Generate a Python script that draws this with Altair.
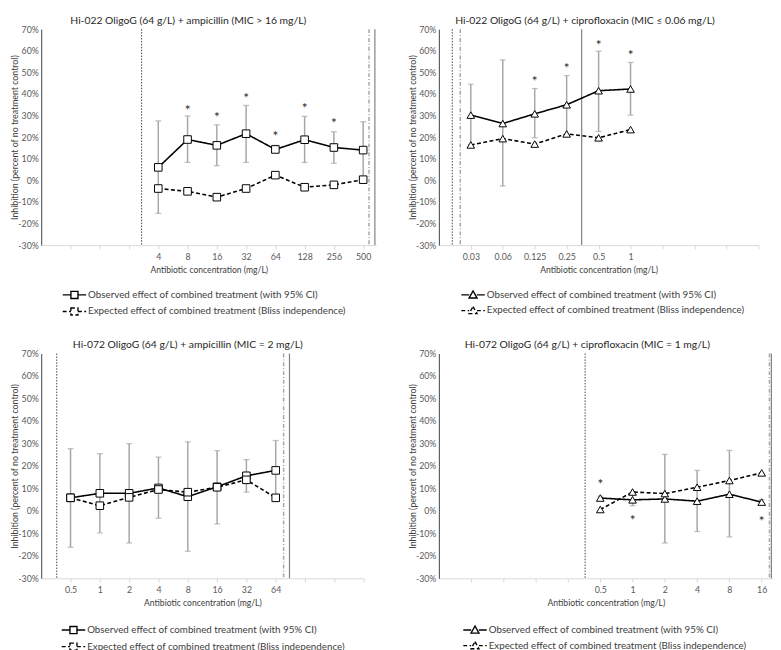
import json
import altair as alt
import pandas as pd

FONT = "Lato"
OBS = "Observed effect of combined treatment (with 95% CI)"
EXP = "Expected effect of combined treatment (Bliss independence)"

# ---------------- Panel A: Hi-022 + ampicillin ----------------
a_title = "Hi-022 OligoG (64 g/L) + ampicillin (MIC > 16 mg/L)"
a_labels = ["4", "8", "16", "32", "64", "128", "256", "500"]
a_pos = [4, 5, 6, 7, 8, 9, 10, 11]
a_obs = [6.0, 18.9, 16.2, 21.6, 14.3, 18.8, 15.2, 14.0]
a_lo = [-15.3, 8.3, 6.8, 8.3, 12.8, 8.3, 7.9, 0.5]
a_hi = [27.5, 29.8, 25.7, 34.7, 16.2, 29.6, 22.5, 27.1]
a_exp = [-3.8, -5.1, -7.8, -3.8, 2.4, -3.2, -2.1, 0.3]
a_star = [None, 33.5, 30.0, 38.8, 21.3, 34.4, 27.2, None]
a_refs = [3.43, 11.2, 11.4]  # dotted, dash-dot, solid

# ---------------- Panel B: Hi-022 + ciprofloxacin ----------------
b_title = "Hi-022 OligoG (64 g/L) + ciprofloxacin (MIC \u2264 0.06 mg/L)"
b_labels = ["0.03", "0.06", "0.125", "0.25", "0.5", "1"]
b_pos = [1, 2, 3, 4, 5, 6]
b_obs = [30.2, 26.3, 30.8, 35.0, 41.5, 42.3]
b_lo = [16.5, -2.6, 19.7, 21.0, 22.6, 30.2]
b_hi = [44.5, 55.8, 42.5, 48.5, 59.8, 54.6]
b_exp = [16.4, 19.3, 16.8, 21.5, 19.7, 23.5]
b_star = [None, None, 47.0, 53.0, 63.6, 58.8]
b_refs = [0.42, 0.67, 4.47]

# ---------------- Panel C: Hi-072 + ampicillin ----------------
c_title = "Hi-072 OligoG (64 g/L) + ampicillin (MIC = 2 mg/L)"
c_labels = ["0.5", "1", "2", "4", "8", "16", "32", "64"]
c_pos = [1, 2, 3, 4, 5, 6, 7, 8]
c_obs = [5.8, 7.8, 7.8, 10.2, 6.3, 10.7, 15.6, 18.0]
c_lo = [-16.2, -9.8, -14.3, -3.3, -18.0, -5.8, 8.3, 5.0]
c_hi = [27.7, 25.4, 29.9, 23.9, 30.7, 26.8, 22.8, 31.3]
c_exp = [5.8, 2.3, 6.0, 9.5, 8.3, 10.5, 13.8, 5.8]
c_star = [None, None, None, None, None, None, None, None]
c_refs = [0.53, 8.27, 8.47]

# ---------------- Panel D: Hi-072 + ciprofloxacin ----------------
d_title = "Hi-072 OligoG (64 g/L) + ciprofloxacin (MIC = 1 mg/L)"
d_labels = ["0.5", "1", "2", "4", "8", "16"]
d_pos = [5, 6, 7, 8, 9, 10]
d_obs = [5.7, 4.9, 5.3, 4.3, 7.4, 3.9]
d_lo = [5.0, 2.3, -14.3, -9.2, -11.6, 3.0]
d_hi = [6.5, 7.5, 25.1, 18.0, 26.9, 5.0]
d_exp = [0.6, 8.4, 7.7, 10.5, 13.5, 16.9]
d_star = [12.8, -3.3, None, None, None, -3.7]
d_refs = [4.53, 10.24, 10.3]

SQ_PATH = "M-2,0H-0.6M0.6,0H2M-0.6,-0.6H0.6V0.6H-0.6Z"
TRI_PATH = "M-2,0H-0.66M0.66,0H2M0,-0.68L0.68,0.52H-0.68Z"


def panel(title, labels, pos, obs, lo, hi, exp, star, refs, shape, sym,
          xmax, width, height, title_dx, leg_x, leg_y):
    pts = pd.DataFrame({
        "pos": pos, "label": labels,
        "obs": [v / 100 for v in obs],
        "lo": [v / 100 for v in lo],
        "hi": [v / 100 for v in hi],
        "exp": [v / 100 for v in exp],
    })
    long = pd.concat([
        pd.DataFrame({"pos": pos, "val": [v / 100 for v in obs], "series": OBS}),
        pd.DataFrame({"pos": pos, "val": [v / 100 for v in exp], "series": EXP}),
    ])
    stars = pd.DataFrame({"pos": pos, "sy": [None if s is None else s / 100 for s in star]}).dropna()

    label_arr = [""] * (int(xmax) + 2)
    for p, l in zip(pos, labels):
        label_arr[p] = l
    xscale = alt.Scale(domain=[0, xmax], nice=False, zero=False)
    xaxis = alt.Axis(
        values=list(range(1, int(xmax) + 1)),
        labelExpr=json.dumps(label_arr) + "[datum.value] || ''",
        title="Antibiotic concentration (mg/L)",
        domainColor="#d9d9d9", tickColor="#d9d9d9", tickSize=4,
        labelColor="#595959", labelFontSize=9, labelPadding=4,
        titleColor="#404040", titleFontSize=8.8, titleFontWeight="normal",
        titlePadding=4, grid=False, labelFlush=False, labelOverlap=False,
    )
    yscale = alt.Scale(domain=[-0.3, 0.7], nice=False, zero=False)
    yaxis = alt.Axis(
        values=[-0.3, -0.2, -0.1, 0, 0.1, 0.2, 0.3, 0.4, 0.5, 0.6, 0.7],
        labelExpr="replace(format(datum.value, '.0%'), '\u2212', '-')",
        title="Inhibition (percent of no treatment control)",
        domainColor="#404040", ticks=False, labelColor="#595959",
        labelFontSize=9, labelPadding=3, titleColor="#404040",
        titleFontSize=9, titleFontWeight="normal", titlePadding=-2,
        grid=False, labelFlush=False, labelOverlap=False,
    )

    def X(field):
        return alt.X(field, type="quantitative", scale=xscale, axis=xaxis)

    def Y(field):
        return alt.Y(field, type="quantitative", scale=yscale, axis=yaxis)

    r1 = alt.Chart(pd.DataFrame({"rx": [refs[0]]})).mark_rule(
        color="#404040", strokeWidth=1, strokeDash=[1.5, 1.5]).encode(x=X("rx"))
    r2 = alt.Chart(pd.DataFrame({"rx": [refs[1]]})).mark_rule(
        color="#a6a6a6", strokeWidth=1.5, strokeDash=[4, 2, 1, 2]).encode(x=X("rx"))
    r3 = alt.Chart(pd.DataFrame({"rx": [refs[2]]})).mark_rule(
        color="#7f7f7f", strokeWidth=1.2).encode(x=X("rx"))

    base = alt.Chart(pts)
    err = base.mark_rule(color="#a6a6a6", strokeWidth=1.5).encode(
        x=X("pos"), y=Y("lo"), y2="hi:Q")
    cap_lo = base.mark_tick(orient="horizontal", color="#a6a6a6", size=6, thickness=1.3).encode(
        x=X("pos"), y=Y("lo"))
    cap_hi = base.mark_tick(orient="horizontal", color="#a6a6a6", size=6, thickness=1.3).encode(
        x=X("pos"), y=Y("hi"))

    lines = alt.Chart(long).mark_line(color="black", strokeWidth=1.6).encode(
        x=X("pos"), y=Y("val"),
        strokeDash=alt.StrokeDash(
            "series:N",
            scale=alt.Scale(domain=[OBS, EXP], range=[[1, 0], [4, 2.5]]),
            legend=alt.Legend(
                title=None, orient="none", legendX=leg_x, legendY=leg_y,
                symbolType=sym, symbolSize=144, symbolStrokeColor="black",
                symbolFillColor="white", symbolStrokeWidth=1.4,
                labelFont=FONT, labelFontSize=10, labelColor="#404040",
                labelLimit=400, rowPadding=3, labelOffset=7,
            ),
        ),
        detail="series:N",
    )
    points = alt.Chart(long).mark_point(
        shape=shape, size=60, filled=True, fill="white", stroke="black",
        strokeWidth=1, opacity=1).encode(x=X("pos"), y=Y("val"))
    star_layer = alt.Chart(stars).mark_text(
        text="*", fontSize=14, color="#262626", baseline="middle", dy=3).encode(
        x=X("pos"), y=Y("sy"))

    return alt.layer(r1, r2, r3, err, cap_lo, cap_hi, lines, points, star_layer).properties(
        width=width, height=height,
        title=alt.TitleParams(title, fontSize=10.6, font=FONT, fontWeight="normal",
                              color="#262626", dx=title_dx, offset=-1, frame="group"),
    )


pA = panel(a_title, a_labels, a_pos, a_obs, a_lo, a_hi, a_exp, a_star, a_refs,
           "square", SQ_PATH, 11.45, 343, 221, -21, 27, 265)
pB = panel(b_title, b_labels, b_pos, b_obs, b_lo, b_hi, b_exp, b_star, b_refs,
           "triangle-up", TRI_PATH, 10, 327, 221, -14, 28, 265)
pC = panel(c_title, c_labels, c_pos, c_obs, c_lo, c_hi, c_exp, c_star, c_refs,
           "square", SQ_PATH, 11, 330, 230, -15, 26, 276)
pD = panel(d_title, d_labels, d_pos, d_obs, d_lo, d_hi, d_exp, d_star, d_refs,
           "triangle-up", TRI_PATH, 10.35, 342, 230, -19, 30, 276)

chart = alt.concat(pA, pB, pC, pD, columns=2, spacing={"row": 111, "column": 64},
                   bounds="flush",
                   padding={"left": 3, "top": 0, "right": 0, "bottom": 0}).resolve_scale(
    strokeDash="independent").resolve_legend(strokeDash="independent").configure(
    font=FONT).configure_view(stroke=None)

chart.save("out.html", embed_options={"renderer": "svg", "actions": False})
